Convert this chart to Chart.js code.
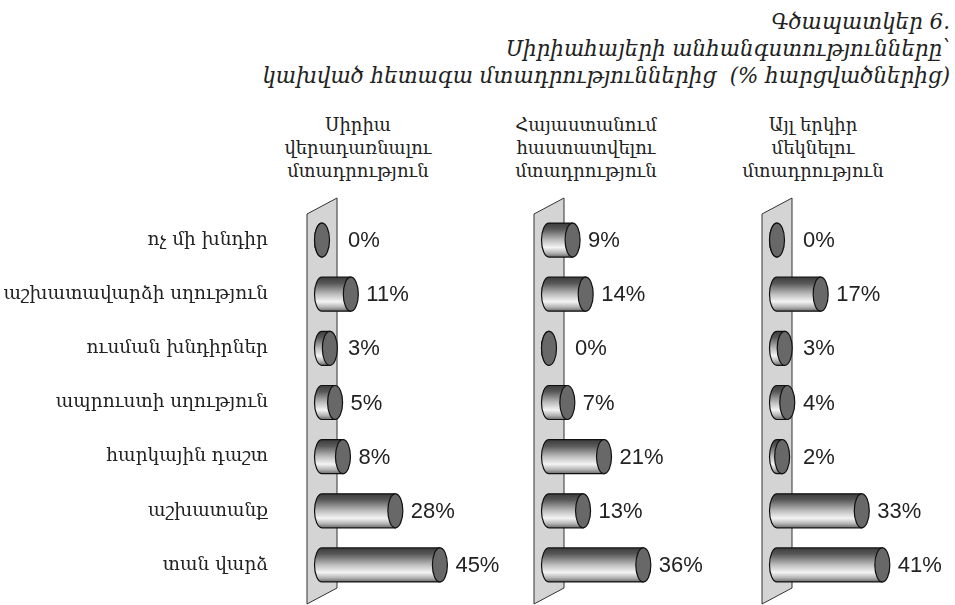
<!DOCTYPE html>
<html><head><meta charset="utf-8">
<script src="https://cdn.jsdelivr.net/npm/chart.js@4.4.1/dist/chart.umd.min.js"></script>
<style>
html,body{margin:0;padding:0;background:#fff;}
#wrap{position:relative;width:955px;height:605px;overflow:hidden;font-family:"DejaVu Serif",serif;color:#222;}
#title{position:absolute;right:5px;top:8px;text-align:right;font-style:italic;font-size:21.4px;line-height:27px;white-space:pre;}
.hdr{position:absolute;top:113px;width:220px;text-align:center;font-size:18px;line-height:23px;white-space:nowrap;}
.box{position:absolute;top:0;height:605px;}
</style></head><body>
<div id="wrap">
  <div id="title"></div>
  <div class="hdr" id="h0"></div>
  <div class="hdr" id="h1"></div>
  <div class="hdr" id="h2"></div>
  <div class="box" style="left:0;width:530px"><canvas id="c0" width="530" height="605"></canvas></div>
  <div class="box" style="left:520px;width:225px"><canvas id="c1" width="225" height="605"></canvas></div>
  <div class="box" style="left:745px;width:210px"><canvas id="c2" width="210" height="605"></canvas></div>
</div>
<script>
// ---- data ----
const categories = ['ոչ մի խնդիր','աշխատավարձի սղություն','ուսման խնդիրներ','ապրուստի սղություն','հարկային դաշտ','աշխատանք','տան վարձ'];
const returnToSyria = [0, 11, 3, 5, 8, 28, 45];
const stayInArmenia = [9, 14, 0, 7, 21, 13, 36];
const moveElsewhere = [0, 17, 3, 4, 2, 33, 41];
const panelTitles = [
  ['Սիրիա','վերադառնալու','մտադրություն'],
  ['Հայաստանում','հաստատվելու','մտադրություն'],
  ['Այլ երկիր','մեկնելու','մտադրություն']
];
const chartTitle = ['Գծապատկեր 6.','Սիրիահայերի անհանգստությունները՝','կախված հետագա մտադրություններից  (% հարցվածներից)'];

// ---- text ----
document.getElementById('title').textContent = chartTitle.join('\n');
const hdrCenters = [358, 586, 813];
panelTitles.forEach((t,i)=>{
  const el = document.getElementById('h'+i);
  el.innerHTML = t.join('<br>');
  el.style.left = (hdrCenters[i]-110)+'px';
});

// ---- cylinder plugin ----
const RX = 7.5;
const cylPlugin = {
  id: 'cyl',
  beforeDatasetsDraw(chart){
    const ctx = chart.ctx;
    const x0 = chart.scales.x.getPixelForValue(0);
    const {top, bottom} = chart.chartArea;
    ctx.save();
    ctx.beginPath();
    ctx.moveTo(x0-15, top+1);
    ctx.lineTo(x0+15, top-15);
    ctx.lineTo(x0+15, bottom-4);
    ctx.lineTo(x0-15, bottom+12);
    ctx.closePath();
    ctx.fillStyle = '#d4d4d4';
    ctx.fill();
    ctx.lineWidth = 1;
    ctx.strokeStyle = '#333';
    ctx.stroke();
    ctx.restore();
  },
  afterDatasetsDraw(chart){
    const ctx = chart.ctx;
    const meta = chart.getDatasetMeta(0);
    const vals = chart.data.datasets[0].data;
    ctx.save();
    meta.data.forEach((bar, i) => {
      const xb = bar.base, xe = bar.x, y = bar.y, ry = bar.height/2;
      const g = ctx.createLinearGradient(0, y-ry, 0, y+ry);
      g.addColorStop(0, '#3c3c3c');
      g.addColorStop(0.18, '#585858');
      g.addColorStop(0.5, '#bdbdbd');
      g.addColorStop(0.72, '#f4f4f4');
      g.addColorStop(0.88, '#b4b4b4');
      g.addColorStop(1, '#6a6a6a');
      ctx.beginPath();
      ctx.moveTo(xe, y-ry);
      ctx.lineTo(xb, y-ry);
      ctx.ellipse(xb, y, RX, ry, 0, -Math.PI/2, Math.PI/2, true);
      ctx.lineTo(xe, y+ry);
      ctx.closePath();
      ctx.fillStyle = g;
      ctx.fill();
      ctx.lineWidth = 1.2;
      ctx.strokeStyle = '#111';
      ctx.stroke();
      ctx.beginPath();
      ctx.ellipse(xe, y, RX, ry, 0, 0, Math.PI*2);
      ctx.fillStyle = '#686868';
      ctx.fill();
      ctx.stroke();
      ctx.fillStyle = '#222';
      ctx.font = '22px "Liberation Sans", Arial, sans-serif';
      ctx.textAlign = 'left';
      ctx.textBaseline = 'middle';
      ctx.fillText(vals[i] + '%', Math.max(xe + RX + 8, xb + 26), y + 1);
    });
    ctx.restore();
  }
};

function makeChart(id, values, showLabels, padLeft, padRight, xmax){
  return new Chart(document.getElementById(id), {
    type: 'bar',
    data: { labels: categories, datasets: [{ data: values, backgroundColor: 'rgba(0,0,0,0)', borderWidth: 0, barThickness: 34 }] },
    options: {
      responsive: false, animation: false, indexAxis: 'y',
      layout: { padding: { left: padLeft, right: padRight, top: 213, bottom: 13 } },
      plugins: { legend: { display: false }, tooltip: { enabled: false }, title: { display: false } },
      scales: {
        x: { display: false, min: 0, max: xmax },
        y: {
          display: showLabels,
          grid: { display: false, drawTicks: false }, border: { display: false },
          ticks: { padding: 54, color: '#222', font: { family: '"DejaVu Serif", serif', size: 18.5 } },
          afterFit(s){ if (showLabels) { s.width = 322; s.paddingTop = 0; s.paddingBottom = 0; } }
        }
      }
    },
    plugins: [cylPlugin]
  });
}
makeChart('c0', returnToSyria, true, 0, 77, 50);
makeChart('c1', stayInArmenia, false, 29, 65, 50);
makeChart('c2', moveElsewhere, false, 32, 47, 51);
</script>
</body></html>
